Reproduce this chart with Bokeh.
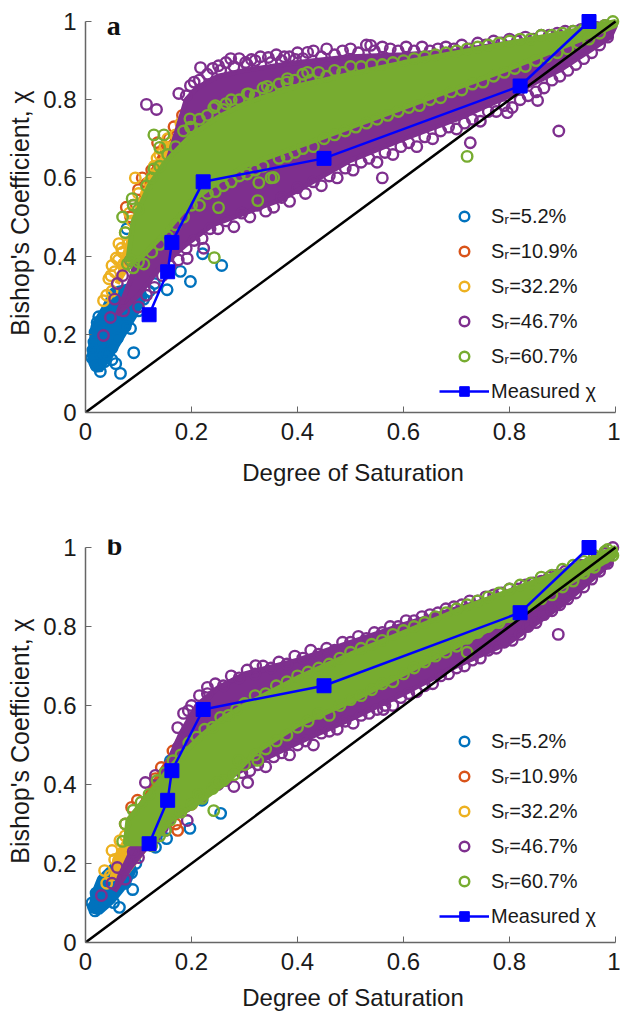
from bokeh.plotting import figure
from bokeh.layouts import column
from bokeh.models import Legend, LegendItem, FixedTicker, Label
from bokeh.embed import file_html
from bokeh.resources import INLINE

tick_values = [0, 0.2, 0.4, 0.6, 0.8, 1]
tick_labels = {0: "0", 0.2: "0.2", 0.4: "0.4", 0.6: "0.6", 0.8: "0.8", 1: "1"}
series_names = ["Sᵣ=5.2%", "Sᵣ=10.9%", "Sᵣ=32.2%", "Sᵣ=46.7%", "Sᵣ=60.7%"]
colors = ["#0072BD", "#D95319", "#EDB120", "#7E2F8E", "#77AC30"]
core_edge_widths = [9, 5, 5, 5, 5]
measured_x = [0.12, 0.155, 0.163, 0.222, 0.45, 0.82, 0.95]
measured_y = [0.25, 0.36, 0.435, 0.59, 0.65, 0.835, 1.0]

# Panel a: dense cores of each cloud (outline values)
a_blue_core_x = [0.014, 0.025, 0.053, 0.09, 0.11, 0.085, 0.053, 0.04, 0.018, 0.012]
a_blue_core_y = [0.125, 0.11, 0.166, 0.25, 0.30, 0.32, 0.31, 0.27, 0.22, 0.15]
a_orange_core_x = [0.09, 0.11, 0.14, 0.17, 0.15, 0.12, 0.10]
a_orange_core_y = [0.46, 0.50, 0.60, 0.70, 0.68, 0.60, 0.53]
a_yellow_core_x = [0.06, 0.10, 0.15, 0.22, 0.22, 0.17, 0.13, 0.10, 0.075]
a_yellow_core_y = [0.33, 0.42, 0.55, 0.66, 0.74, 0.70, 0.62, 0.52, 0.41]
a_purple_core_x = [0.06, 0.10, 0.14, 0.19, 0.24, 0.29, 0.37, 0.50, 0.60, 0.70, 0.80, 0.90, 0.99, 1.0, 0.90, 0.80, 0.70, 0.60, 0.50, 0.40, 0.30, 0.25, 0.21, 0.19, 0.15, 0.12, 0.085]
a_purple_core_y = [0.25, 0.30, 0.37, 0.43, 0.48, 0.505, 0.545, 0.645, 0.70, 0.75, 0.81, 0.88, 0.96, 0.99, 0.965, 0.945, 0.925, 0.915, 0.91, 0.895, 0.875, 0.86, 0.83, 0.80, 0.62, 0.50, 0.34]
a_green_core_x = [0.08, 0.10, 0.15, 0.20, 0.25, 0.30, 0.40, 0.50, 0.60, 0.70, 0.80, 0.90, 1.0, 1.0, 0.90, 0.80, 0.70, 0.60, 0.50, 0.40, 0.30, 0.25, 0.20, 0.15, 0.12, 0.09]
a_green_core_y = [0.39, 0.39, 0.46, 0.54, 0.59, 0.63, 0.68, 0.73, 0.78, 0.83, 0.88, 0.935, 0.99, 1.0, 0.97, 0.945, 0.92, 0.895, 0.865, 0.835, 0.79, 0.755, 0.71, 0.64, 0.58, 0.49]

# Panel a: individually visible circles
a_blue_other_x = [0.091, 0.066, 0.057, 0.05, 0.154, 0.179, 0.198, 0.257, 0.221, 0.085, 0.025, 0.016, 0.012, 0.02, 0.03, 0.045, 0.07, 0.09, 0.11, 0.022, 0.05, 0.08, 0.078, 0.13, 0.014, 0.018, 0.028, 0.036, 0.042, 0.06, 0.075, 0.10, 0.12, 0.035, 0.026]
a_blue_other_y = [0.153, 0.10, 0.125, 0.135, 0.314, 0.361, 0.335, 0.376, 0.406, 0.215, 0.245, 0.18, 0.14, 0.12, 0.225, 0.25, 0.29, 0.31, 0.29, 0.23, 0.165, 0.24, 0.47, 0.33, 0.16, 0.205, 0.105, 0.13, 0.15, 0.19, 0.22, 0.26, 0.31, 0.245, 0.215]
a_orange_x = [0.107, 0.077, 0.167, 0.183, 0.136, 0.10, 0.115, 0.125, 0.145, 0.09, 0.085, 0.158, 0.15, 0.17, 0.19, 0.20, 0.21]
a_orange_y = [0.60, 0.525, 0.731, 0.76, 0.69, 0.57, 0.585, 0.62, 0.67, 0.53, 0.50, 0.70, 0.64, 0.705, 0.745, 0.73, 0.76]
a_yellow_x = [0.034, 0.044, 0.05, 0.063, 0.094, 0.058, 0.075, 0.083, 0.10, 0.12, 0.13, 0.16, 0.17, 0.19, 0.205, 0.225, 0.155, 0.14, 0.05, 0.07, 0.115, 0.18, 0.04, 0.048, 0.055, 0.062, 0.068, 0.072, 0.08, 0.088, 0.095, 0.105, 0.11, 0.125, 0.135, 0.15, 0.165, 0.215]
a_yellow_y = [0.286, 0.342, 0.376, 0.432, 0.60, 0.395, 0.46, 0.51, 0.56, 0.59, 0.63, 0.69, 0.71, 0.72, 0.75, 0.76, 0.70, 0.66, 0.31, 0.41, 0.56, 0.74, 0.30, 0.35, 0.36, 0.39, 0.42, 0.38, 0.43, 0.49, 0.47, 0.53, 0.50, 0.60, 0.65, 0.68, 0.68, 0.74]
a_purple_top_x = [0.19, 0.205, 0.215, 0.23, 0.24,
                  0.255, 0.265, 0.28, 0.29, 0.305,
                  0.32, 0.33, 0.35, 0.36, 0.37,
                  0.385, 0.40, 0.41, 0.43, 0.445,
                  0.455, 0.47, 0.485, 0.50, 0.515,
                  0.53, 0.545, 0.56, 0.575, 0.59,
                  0.605, 0.62, 0.635, 0.65, 0.665,
                  0.68, 0.695, 0.71, 0.725, 0.74,
                  0.755, 0.77, 0.785, 0.80, 0.815,
                  0.83, 0.845, 0.86, 0.875, 0.89,
                  0.905, 0.92, 0.935, 0.95, 0.965,
                  0.98]
a_purple_top_y = [0.81, 0.845, 0.85, 0.865, 0.88,
                  0.875, 0.895, 0.885, 0.905, 0.89,
                  0.90, 0.91, 0.895, 0.915, 0.90,
                  0.91, 0.92, 0.905, 0.925, 0.91,
                  0.93, 0.915, 0.925, 0.93, 0.92,
                  0.94, 0.925, 0.935, 0.93, 0.925,
                  0.935, 0.925, 0.935, 0.925, 0.93,
                  0.935, 0.93, 0.94, 0.93, 0.945,
                  0.94, 0.95, 0.945, 0.955, 0.95,
                  0.96, 0.955, 0.965, 0.965, 0.97,
                  0.975, 0.975, 0.98, 0.985, 0.985,
                  0.99]
a_purple_low_x = [0.10, 0.115, 0.13, 0.145, 0.16,
                  0.175, 0.19, 0.205, 0.22, 0.235,
                  0.25, 0.265, 0.28, 0.295, 0.31,
                  0.325, 0.34, 0.355, 0.37, 0.385,
                  0.40, 0.415, 0.43, 0.445, 0.46,
                  0.475, 0.49, 0.505, 0.52, 0.535,
                  0.55, 0.565, 0.58, 0.595, 0.61,
                  0.625, 0.64, 0.655, 0.67, 0.685,
                  0.70, 0.715, 0.73, 0.745, 0.76,
                  0.775, 0.79, 0.805, 0.82, 0.835,
                  0.85, 0.865, 0.88, 0.895, 0.91,
                  0.925, 0.94, 0.955, 0.97, 0.985]
a_purple_low_y = [0.27, 0.30, 0.32, 0.35, 0.375,
                  0.39, 0.42, 0.44, 0.445, 0.47,
                  0.47, 0.49, 0.475, 0.51, 0.50,
                  0.53, 0.515, 0.525, 0.55, 0.54,
                  0.575, 0.56, 0.59, 0.58, 0.605,
                  0.60, 0.625, 0.62, 0.64, 0.65,
                  0.64, 0.665, 0.66, 0.68, 0.69,
                  0.68, 0.705, 0.70, 0.72, 0.73,
                  0.725, 0.74, 0.75, 0.745, 0.77,
                  0.77, 0.785, 0.78, 0.80, 0.81,
                  0.82, 0.83, 0.85, 0.86, 0.875,
                  0.89, 0.905, 0.92, 0.94, 0.96]
a_purple_other_x = [0.115, 0.134, 0.217, 0.176, 0.198, 0.251, 0.274, 0.302, 0.313, 0.345, 0.375, 0.396, 0.419, 0.538, 0.56, 0.893, 0.726, 0.796, 0.853, 0.034, 0.047, 0.072, 0.192, 0.223, 0.06, 0.07, 0.085, 0.055, 0.09, 0.11]
a_purple_other_y = [0.788, 0.775, 0.882, 0.816, 0.836, 0.887, 0.905, 0.895, 0.903, 0.908, 0.91, 0.903, 0.921, 0.939, 0.60, 0.72, 0.69, 0.767, 0.798, 0.197, 0.243, 0.26, 0.394, 0.42, 0.33, 0.35, 0.389, 0.29, 0.40, 0.46]
a_green_top_x = [0.075, 0.09, 0.10, 0.115, 0.125,
                 0.14, 0.155, 0.17, 0.185, 0.20,
                 0.215, 0.23, 0.245, 0.26, 0.275,
                 0.29, 0.305, 0.32, 0.335, 0.35,
                 0.365, 0.38, 0.395, 0.41, 0.425,
                 0.44, 0.455, 0.47, 0.485, 0.50,
                 0.52, 0.54, 0.56, 0.58, 0.60,
                 0.62, 0.64, 0.66, 0.68, 0.70,
                 0.72, 0.74, 0.76, 0.78, 0.80,
                 0.82, 0.84, 0.86, 0.88, 0.90,
                 0.92, 0.94, 0.96, 0.98, 0.995]
a_green_top_y = [0.46, 0.53, 0.52, 0.58, 0.60,
                 0.63, 0.66, 0.68, 0.72, 0.73,
                 0.75, 0.76, 0.785, 0.775, 0.80,
                 0.80, 0.815, 0.81, 0.83, 0.825,
                 0.84, 0.845, 0.85, 0.865, 0.85,
                 0.87, 0.86, 0.875, 0.87, 0.885,
                 0.885, 0.89, 0.89, 0.895, 0.90,
                 0.905, 0.91, 0.915, 0.92, 0.925,
                 0.93, 0.935, 0.94, 0.945, 0.95,
                 0.955, 0.955, 0.965, 0.965, 0.97,
                 0.975, 0.98, 0.985, 0.99, 1.0]
a_green_low_x = [0.09, 0.11, 0.125, 0.14, 0.155,
                 0.17, 0.185, 0.20, 0.215, 0.23,
                 0.245, 0.26, 0.275, 0.29, 0.305,
                 0.32, 0.335, 0.35, 0.365, 0.38,
                 0.395, 0.41, 0.43, 0.45, 0.47,
                 0.49, 0.51, 0.53, 0.55, 0.57,
                 0.59, 0.61, 0.63, 0.65, 0.67,
                 0.69, 0.71, 0.73, 0.75, 0.77,
                 0.79, 0.81, 0.83, 0.85, 0.87,
                 0.89, 0.91, 0.93, 0.95, 0.97]
a_green_low_y = [0.37, 0.38, 0.41, 0.43, 0.45,
                 0.48, 0.50, 0.53, 0.53, 0.56,
                 0.565, 0.58, 0.59, 0.605, 0.61,
                 0.62, 0.63, 0.60, 0.65, 0.655,
                 0.665, 0.675, 0.68, 0.70, 0.71,
                 0.72, 0.73, 0.74, 0.75, 0.76,
                 0.77, 0.78, 0.785, 0.80, 0.805,
                 0.82, 0.825, 0.84, 0.845, 0.86,
                 0.87, 0.88, 0.885, 0.90, 0.91,
                 0.92, 0.93, 0.945, 0.955, 0.97]
a_green_other_x = [0.07, 0.088, 0.129, 0.148, 0.14, 0.197, 0.198, 0.129, 0.242, 0.265, 0.308, 0.343, 0.381, 0.419, 0.325, 0.355, 0.327, 0.251, 0.243, 0.079, 0.72, 0.085, 0.10]
a_green_other_y = [0.50, 0.547, 0.71, 0.71, 0.678, 0.751, 0.73, 0.623, 0.78, 0.79, 0.815, 0.834, 0.854, 0.87, 0.542, 0.601, 0.588, 0.524, 0.396, 0.38, 0.655, 0.39, 0.385]

# Panel b: dense cores
b_blue_core_x = [0.014, 0.025, 0.05, 0.08, 0.09, 0.06, 0.03, 0.018]
b_blue_core_y = [0.085, 0.08, 0.11, 0.16, 0.19, 0.20, 0.16, 0.12]
b_orange_core_x = [0.09, 0.13, 0.16, 0.20, 0.19, 0.174, 0.143, 0.10]
b_orange_core_y = [0.28, 0.31, 0.38, 0.46, 0.53, 0.495, 0.435, 0.34]
b_yellow_core_x = [0.05, 0.08, 0.12, 0.17, 0.20, 0.17, 0.12, 0.08, 0.055]
b_yellow_core_y = [0.16, 0.18, 0.25, 0.36, 0.45, 0.47, 0.36, 0.27, 0.21]
b_purple_core_x = [0.055, 0.085, 0.12, 0.16, 0.20, 0.25, 0.30, 0.40, 0.50, 0.60, 0.70, 0.80, 0.90, 0.99, 1.0, 0.90, 0.80, 0.70, 0.60, 0.50, 0.40, 0.30, 0.25, 0.21, 0.18, 0.15, 0.12, 0.09, 0.065]
b_purple_core_y = [0.13, 0.19, 0.25, 0.31, 0.36, 0.405, 0.44, 0.505, 0.565, 0.63, 0.70, 0.76, 0.855, 0.96, 0.99, 0.935, 0.885, 0.845, 0.805, 0.76, 0.715, 0.68, 0.645, 0.60, 0.53, 0.44, 0.35, 0.24, 0.17]
b_green_core_x = [0.075, 0.125, 0.162, 0.219, 0.27, 0.319, 0.40, 0.50, 0.60, 0.70, 0.80, 0.90, 1.0, 1.0, 0.90, 0.80, 0.70, 0.60, 0.50, 0.40, 0.30, 0.256, 0.22, 0.174, 0.143, 0.11, 0.08]
b_green_core_y = [0.25, 0.25, 0.31, 0.36, 0.41, 0.48, 0.55, 0.61, 0.68, 0.75, 0.82, 0.90, 0.98, 1.0, 0.94, 0.89, 0.84, 0.785, 0.73, 0.67, 0.60, 0.565, 0.525, 0.465, 0.415, 0.36, 0.31]

# Panel b: individually visible circles
b_blue_x = [0.089, 0.064, 0.053, 0.255, 0.197, 0.153, 0.132, 0.087, 0.015, 0.02, 0.03, 0.045, 0.065, 0.075, 0.095, 0.135, 0.16, 0.22, 0.012, 0.018, 0.024, 0.036, 0.05, 0.07]
b_blue_y = [0.134, 0.089, 0.101, 0.327, 0.289, 0.263, 0.241, 0.177, 0.09, 0.125, 0.14, 0.17, 0.21, 0.15, 0.20, 0.395, 0.46, 0.36, 0.10, 0.08, 0.105, 0.10, 0.125, 0.18]
b_orange_x = [0.174, 0.17, 0.105, 0.115, 0.125, 0.14, 0.15, 0.16, 0.19, 0.205, 0.09, 0.20, 0.075, 0.087, 0.098, 0.132, 0.143, 0.165, 0.18]
b_orange_y = [0.284, 0.30, 0.29, 0.33, 0.35, 0.39, 0.41, 0.44, 0.49, 0.52, 0.27, 0.35, 0.30, 0.342, 0.36, 0.415, 0.443, 0.485, 0.504]
b_yellow_x = [0.036, 0.047, 0.06, 0.07, 0.08, 0.09, 0.105, 0.12, 0.145, 0.17, 0.19, 0.205, 0.22, 0.04, 0.05, 0.055, 0.065, 0.075]
b_yellow_y = [0.182, 0.17, 0.19, 0.21, 0.235, 0.25, 0.30, 0.33, 0.39, 0.46, 0.49, 0.50, 0.51, 0.15, 0.233, 0.21, 0.258, 0.27]
b_purple_top_x = [0.185, 0.20, 0.215, 0.23, 0.245,
                  0.26, 0.275, 0.29, 0.305, 0.32,
                  0.335, 0.35, 0.365, 0.38, 0.395,
                  0.41, 0.425, 0.44, 0.455, 0.47,
                  0.485, 0.50, 0.515, 0.53, 0.545,
                  0.56, 0.575, 0.59, 0.605, 0.62,
                  0.635, 0.65, 0.665, 0.68, 0.695,
                  0.71, 0.725, 0.74, 0.755, 0.77,
                  0.785, 0.80, 0.815, 0.83, 0.845,
                  0.86, 0.875, 0.89, 0.905, 0.92,
                  0.935, 0.95, 0.965, 0.98, 0.995]
b_purple_top_y = [0.58, 0.60, 0.625, 0.63, 0.655,
                  0.65, 0.675, 0.67, 0.69, 0.68,
                  0.70, 0.695, 0.71, 0.705, 0.725,
                  0.72, 0.74, 0.73, 0.745, 0.74,
                  0.76, 0.76, 0.775, 0.77, 0.785,
                  0.785, 0.80, 0.80, 0.815, 0.815,
                  0.825, 0.83, 0.835, 0.845, 0.85,
                  0.855, 0.865, 0.865, 0.875, 0.88,
                  0.885, 0.895, 0.895, 0.905, 0.91,
                  0.915, 0.925, 0.93, 0.94, 0.945,
                  0.955, 0.96, 0.975, 0.985, 1.0]
b_purple_low_x = [0.10, 0.115, 0.13, 0.145, 0.16,
                  0.175, 0.19, 0.205, 0.22, 0.235,
                  0.25, 0.265, 0.28, 0.295, 0.31,
                  0.325, 0.34, 0.355, 0.37, 0.385,
                  0.40, 0.415, 0.43, 0.445, 0.46,
                  0.475, 0.49, 0.505, 0.52, 0.535,
                  0.55, 0.565, 0.58, 0.595, 0.61,
                  0.625, 0.64, 0.655, 0.67, 0.685,
                  0.70, 0.715, 0.73, 0.745, 0.76,
                  0.775, 0.79, 0.805, 0.82, 0.835,
                  0.85, 0.865, 0.88, 0.895, 0.91,
                  0.925, 0.94, 0.955, 0.97, 0.985]
b_purple_low_y = [0.215, 0.25, 0.265, 0.29, 0.315,
                  0.33, 0.345, 0.365, 0.37, 0.395,
                  0.40, 0.41, 0.395, 0.43, 0.435,
                  0.45, 0.445, 0.47, 0.48, 0.475,
                  0.50, 0.51, 0.50, 0.53, 0.535,
                  0.54, 0.56, 0.555, 0.575, 0.58,
                  0.59, 0.60, 0.60, 0.62, 0.63,
                  0.635, 0.65, 0.655, 0.675, 0.68,
                  0.695, 0.70, 0.715, 0.72, 0.74,
                  0.745, 0.76, 0.765, 0.78, 0.80,
                  0.81, 0.83, 0.84, 0.855, 0.87,
                  0.885, 0.90, 0.92, 0.94, 0.96]
b_purple_other_x = [0.03, 0.113, 0.132, 0.174, 0.175, 0.23, 0.321, 0.306, 0.192, 0.151, 0.562, 0.892, 0.05, 0.06, 0.075, 0.09, 0.194]
b_purple_other_y = [0.119, 0.405, 0.423, 0.544, 0.494, 0.646, 0.701, 0.405, 0.309, 0.284, 0.59, 0.78, 0.15, 0.19, 0.16, 0.23, 0.587]
b_green_top_x = [0.075, 0.09, 0.105, 0.12, 0.135,
                 0.15, 0.165, 0.18, 0.195, 0.21,
                 0.225, 0.24, 0.255, 0.27, 0.285,
                 0.30, 0.32, 0.34, 0.36, 0.38,
                 0.40, 0.42, 0.44, 0.46, 0.48,
                 0.50, 0.52, 0.54, 0.56, 0.58,
                 0.60, 0.62, 0.64, 0.66, 0.68,
                 0.70, 0.72, 0.74, 0.76, 0.78,
                 0.80, 0.82, 0.84, 0.86, 0.88,
                 0.90, 0.92, 0.94, 0.96, 0.98]
b_green_top_y = [0.30, 0.335, 0.355, 0.375, 0.41,
                 0.43, 0.46, 0.475, 0.505, 0.52,
                 0.54, 0.545, 0.57, 0.575, 0.59,
                 0.605, 0.625, 0.63, 0.65, 0.66,
                 0.675, 0.685, 0.695, 0.705, 0.72,
                 0.735, 0.745, 0.755, 0.765, 0.78,
                 0.79, 0.80, 0.81, 0.825, 0.835,
                 0.845, 0.855, 0.865, 0.875, 0.885,
                 0.895, 0.905, 0.91, 0.925, 0.93,
                 0.945, 0.955, 0.965, 0.98, 0.99]
b_green_low_x = [0.125, 0.14, 0.16, 0.18, 0.20,
                 0.22, 0.24, 0.26, 0.28, 0.30,
                 0.32, 0.34, 0.36, 0.38, 0.40,
                 0.42, 0.44, 0.46, 0.48, 0.50,
                 0.52, 0.54, 0.56, 0.58, 0.60,
                 0.62, 0.64, 0.66, 0.68, 0.70,
                 0.72, 0.74, 0.76, 0.78, 0.80,
                 0.82, 0.84, 0.86, 0.88, 0.90,
                 0.92, 0.94, 0.96, 0.98]
b_green_low_y = [0.245, 0.27, 0.31, 0.33, 0.35,
                 0.365, 0.39, 0.41, 0.425, 0.45,
                 0.475, 0.49, 0.51, 0.525, 0.545,
                 0.56, 0.58, 0.575, 0.60, 0.615,
                 0.625, 0.64, 0.655, 0.66, 0.68,
                 0.695, 0.71, 0.725, 0.735, 0.75,
                 0.77, 0.785, 0.80, 0.81, 0.825,
                 0.84, 0.855, 0.87, 0.88, 0.90,
                 0.915, 0.935, 0.95, 0.975]
b_green_other_x = [0.242, 0.151, 0.07, 0.249, 0.213, 0.325, 0.289, 0.72, 0.985, 0.995]
b_green_other_y = [0.334, 0.284, 0.256, 0.405, 0.375, 0.461, 0.461, 0.735, 0.995, 0.98]

panel_a = dict(letter="a", letter_y=0.99, top=13, frame=399, y_end=1.0205, bottom=110, legend_y=9, label_gap=16,
               core_x=[a_blue_core_x, a_orange_core_x, a_yellow_core_x, a_purple_core_x, a_green_core_x],
               core_y=[a_blue_core_y, a_orange_core_y, a_yellow_core_y, a_purple_core_y, a_green_core_y],
               pts_x=[a_blue_other_x, a_orange_x, a_yellow_x, a_purple_top_x + a_purple_low_x + a_purple_other_x, a_green_top_x + a_green_low_x + a_green_other_x],
               pts_y=[a_blue_other_y, a_orange_y, a_yellow_y, a_purple_top_y + a_purple_low_y + a_purple_other_y, a_green_top_y + a_green_low_y + a_green_other_y])
panel_b = dict(letter="b", letter_y=1.005, top=17, frame=403, y_end=1.0203, bottom=71, legend_y=14, label_gap=11,
               core_x=[b_blue_core_x, b_orange_core_x, b_yellow_core_x, b_purple_core_x, b_green_core_x],
               core_y=[b_blue_core_y, b_orange_core_y, b_yellow_core_y, b_purple_core_y, b_green_core_y],
               pts_x=[b_blue_x, b_orange_x, b_yellow_x, b_purple_top_x + b_purple_low_x + b_purple_other_x, b_green_top_x + b_green_low_x + b_green_other_x],
               pts_y=[b_blue_y, b_orange_y, b_yellow_y, b_purple_top_y + b_purple_low_y + b_purple_other_y, b_green_top_y + b_green_low_y + b_green_other_y])


def make_panel(d):
    p = figure(width=620, height=d["top"] + d["frame"] + d["bottom"],
               x_range=(0, 1.0094), y_range=(0, d["y_end"]), output_backend="svg", toolbar_location=None,
               min_border_left=85, min_border_right=0,
               min_border_top=d["top"], min_border_bottom=d["bottom"])
    p.outline_line_color = None
    p.grid.visible = False
    for ax in (p.xaxis[0], p.yaxis[0]):
        ax.ticker = FixedTicker(ticks=tick_values)
        ax.bounds = (0, 1)
        ax.major_label_overrides = tick_labels
        ax.major_label_text_font = "Liberation Sans"
        ax.major_label_text_font_size = "24px"
        ax.major_label_text_color = "#1a1a1a"
        ax.axis_label_text_font = "Liberation Sans"
        ax.axis_label_text_font_size = "24px"
        ax.axis_label_text_font_style = "normal"
        ax.axis_label_text_color = "#1a1a1a"
        ax.axis_line_color = "#666666"
        ax.axis_line_width = 1.5
        ax.major_tick_line_color = "#666666"
        ax.major_tick_in = 6
        ax.major_tick_out = 0
        ax.minor_tick_line_color = None
    p.xaxis[0].axis_label = "Degree of Saturation"
    p.yaxis[0].axis_label = "Bishop's Coefficient, χ"
    p.yaxis[0].axis_label_text_font_size = "25px"
    p.xaxis[0].major_label_standoff = 10
    p.xaxis[0].axis_label_standoff = d["label_gap"]
    p.yaxis[0].major_label_standoff = 9
    p.yaxis[0].major_label_orientation = "horizontal"
    p.yaxis[0].axis_label_standoff = 6

    items = []
    for i, name in enumerate(series_names):
        p.patch(d["core_x"][i], d["core_y"][i], fill_color=colors[i], line_color=colors[i],
                line_width=core_edge_widths[i])
        r = p.scatter(d["pts_x"][i], d["pts_y"][i], size=10.5, marker="circle", fill_color=None,
                      line_color=colors[i], line_width=2.4)
        items.append(LegendItem(label=name, renderers=[r]))

    p.line([0, 1], [0, 1], line_color="black", line_width=2.5)
    ml = p.line(measured_x, measured_y, line_color="#0000FF", line_width=2.5)
    ms = p.scatter(measured_x, measured_y, size=14, marker="square", fill_color="#0000FF", line_color="#0000FF")
    items.append(LegendItem(label="Measured χ", renderers=[ml, ms]))

    legend = Legend(items=items, location=(354, d["legend_y"]), orientation="vertical",
                    border_line_color=None, background_fill_color=None, background_fill_alpha=0,
                    label_text_font="Liberation Sans", label_text_font_size="20px",
                    label_text_color="#1a1a1a", glyph_width=50, glyph_height=24, label_height=24,
                    spacing=11, padding=3, margin=0, label_standoff=2)
    p.add_layout(legend, "center")

    p.add_layout(Label(x=0.04, y=d["letter_y"], text=d["letter"], text_font="Liberation Serif", text_font_style="bold",
                       text_font_size="28px", text_color="#111111", text_baseline="middle"))
    return p


layout = column(make_panel(panel_a), make_panel(panel_b), spacing=0)
open("out.html", "w").write(file_html(layout, INLINE))
